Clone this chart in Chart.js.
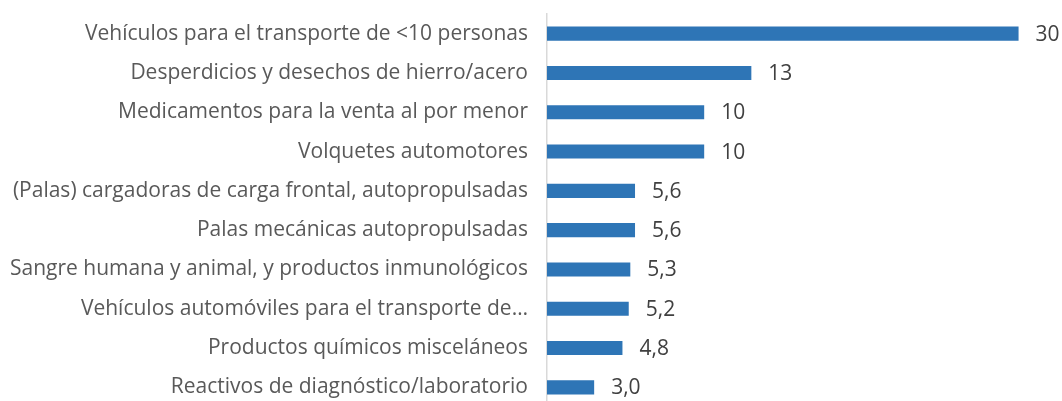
<!DOCTYPE html>
<html>
<head>
<meta charset="utf-8">
<script src="https://cdn.jsdelivr.net/npm/chart.js@4/dist/chart.umd.min.js"></script>
<style>
	html, body { margin: 0; padding: 0; background: #fff; overflow: hidden; }
	canvas { display: block; }
</style>
</head>
<body>
<canvas id="barChart" width="1062" height="407" style="width:1062px;height:407px"></canvas>
<script>
// categorías (de arriba hacia abajo)
var categories = [
	'Vehículos para el transporte de <10 personas',
	'Desperdicios y desechos de hierro/acero',
	'Medicamentos para la venta al por menor',
	'Volquetes automotores',
	'(Palas) cargadoras de carga frontal, autopropulsadas',
	'Palas mecánicas autopropulsadas',
	'Sangre humana y animal, y productos inmunológicos',
	'Vehículos automóviles para el transporte de…',
	'Productos químicos misceláneos',
	'Reactivos de diagnóstico/laboratorio'
];
// valores
var values = [30, 13, 10, 10, 5.6, 5.6, 5.3, 5.2, 4.8, 3.0];

var fontFamily = '"Open Sans", "Noto Sans", sans-serif';

// etiqueta de valor con coma decimal
function fmt(v) {
	return v >= 10 ? String(Math.round(v)) : v.toFixed(1).replace('.', ',');
}

// etiquetas de datos al final de cada barra
var valueLabels = {
	id: 'valueLabels',
	afterDatasetsDraw: function(chart) {
		var ctx = chart.ctx;
		var meta = chart.getDatasetMeta(0);
		ctx.save();
		ctx.font = '21px ' + fontFamily;
		ctx.fillStyle = '#404040';
		ctx.textAlign = 'left';
		ctx.textBaseline = 'middle';
		meta.data.forEach(function(bar, i) {
			ctx.fillText(fmt(values[i]), bar.x + 17, bar.y + 1);
		});
		ctx.restore();
	}
};

var ctx = document.getElementById('barChart').getContext('2d');
var myChart = new Chart(ctx, {
	type: 'bar',
	data: {
		labels: categories,
		datasets: [{
			data: values,
			backgroundColor: '#2E75B6',
			borderWidth: 0,
			categoryPercentage: 1,
			barPercentage: 0.36
		}]
	},
	options: {
		indexAxis: 'y',
		responsive: false,
		animation: false,
		layout: { padding: { top: 14, right: 12, bottom: 0, left: 0 } },
		plugins: {
			legend: { display: false },
			tooltip: { enabled: false }
		},
		scales: {
			x: {
				display: false,
				min: 0,
				max: 32
			},
			y: {
				afterFit: function(scale) {
					scale.width = 547;
					scale.paddingTop = 0;
					scale.paddingBottom = 0;
				},
				grid: { display: false, drawTicks: false },
				border: { display: true, color: '#d9d9d9', width: 1.5 },
				ticks: {
					padding: 19,
					color: '#595959',
					autoSkip: false,
					font: { family: fontFamily, size: 21 }
				}
			}
		}
	},
	plugins: [valueLabels]
});
</script>
</body>
</html>
